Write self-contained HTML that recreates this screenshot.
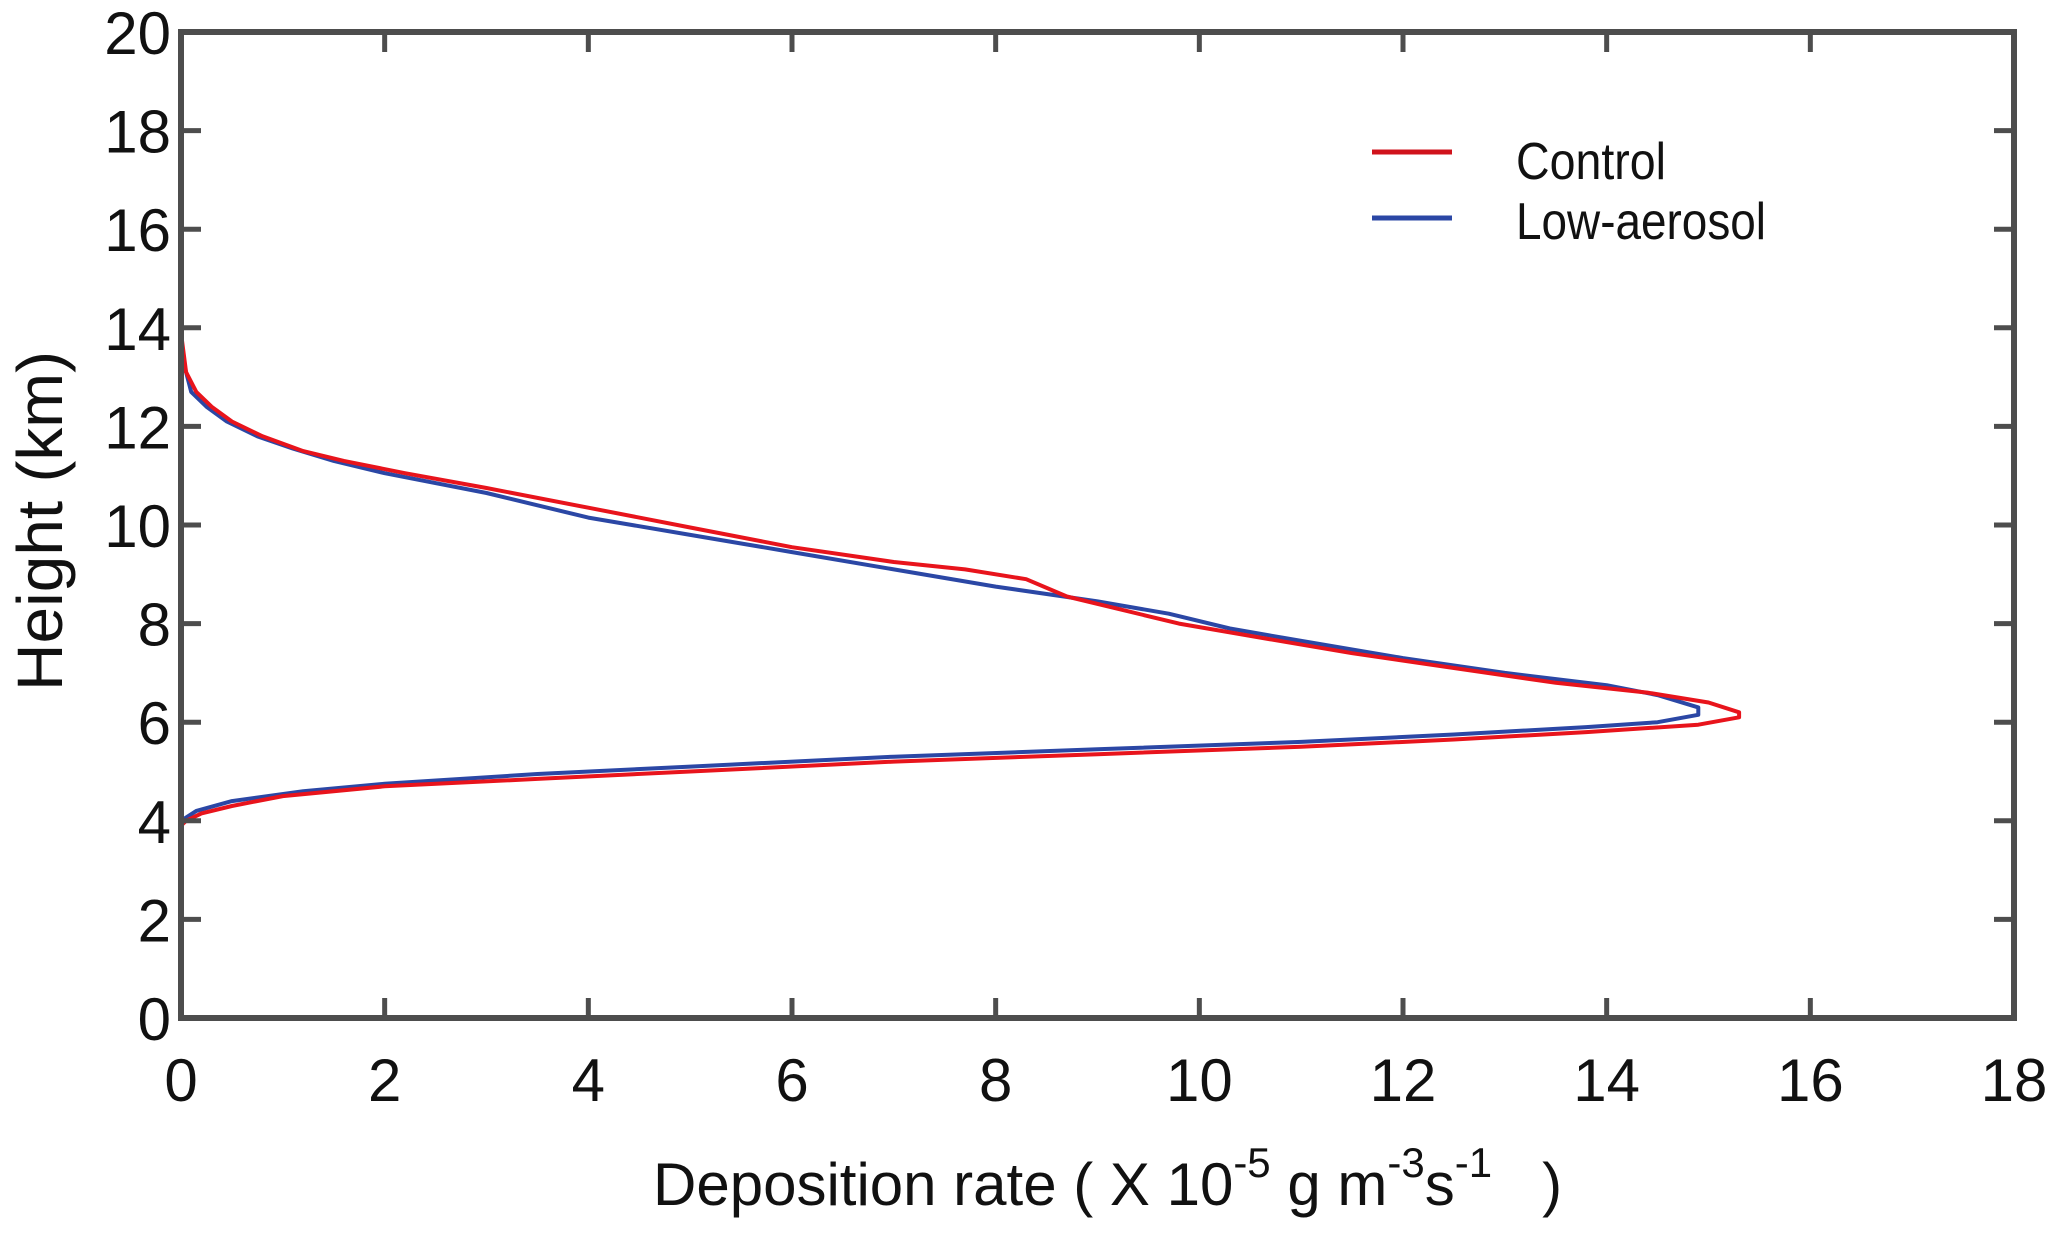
<!DOCTYPE html>
<html><head><meta charset="utf-8"><style>
html,body{margin:0;padding:0;background:#fff;}
svg{display:block;font-family:"Liberation Sans",sans-serif;}
</style></head><body>
<svg id="chart" width="2067" height="1237" viewBox="0 0 2067 1237">
<g id="plot"></g>
<g id="axes"></g>
<g>
<line x1="1372" y1="152" x2="1452" y2="152" stroke="#d0131c" stroke-width="5"/>
<text x="1516" y="179" font-size="52" fill="#111" textLength="150" lengthAdjust="spacingAndGlyphs">Control</text>
<line x1="1372" y1="218" x2="1452" y2="218" stroke="#2b47a5" stroke-width="5"/>
<text x="1516" y="239" font-size="52" fill="#111" textLength="250" lengthAdjust="spacingAndGlyphs">Low-aerosol</text>
</g>
<text x="653" y="1205" font-size="60" fill="#111">Deposition rate ( X 10<tspan dy="-28" font-size="42">-5</tspan><tspan dy="28"> g m</tspan><tspan dy="-28" font-size="42">-3</tspan><tspan dy="28">s</tspan><tspan dy="-28" font-size="42">-1</tspan><tspan dy="28" xml:space="preserve">   )</tspan></text>
<text transform="translate(62,521) rotate(-90)" text-anchor="middle" font-size="64" fill="#111" textLength="340" lengthAdjust="spacingAndGlyphs">Height (km)</text>
</svg>
<script>
const xTicks=[0,2,4,6,8,10,12,14,16,18];
const yTicks=[0,2,4,6,8,10,12,14,16,18,20];
const controlX=[0,0.05,0.15,0.3,0.5,0.8,1.2,1.6,2.2,3,4,5,6,7,7.7,8.3,8.7,9.2,9.8,10.5,11.5,12.5,13.5,14.4,15.0,15.3,15.3,14.9,13.8,12.5,11,9,7,5,3.5,2,1,0.5,0.2,0.05,0,0];
const controlY=[13.9,13.1,12.7,12.4,12.1,11.8,11.5,11.3,11.05,10.75,10.35,9.95,9.55,9.25,9.1,8.9,8.55,8.3,8.0,7.75,7.4,7.1,6.8,6.6,6.4,6.2,6.1,5.95,5.8,5.65,5.5,5.35,5.2,5.0,4.85,4.7,4.5,4.3,4.15,4.0,3.9,0];
const lowX=[0,0.1,0.25,0.45,0.75,1.1,1.5,2,3,4,5,6,7,8,9,9.7,10.3,11,12,13,14,14.5,14.9,14.9,14.5,13.8,12.5,11,9,7,5,3.5,2,1.2,0.5,0.15,0,0];
const lowY=[13.5,12.7,12.4,12.1,11.8,11.55,11.3,11.05,10.65,10.15,9.8,9.45,9.1,8.75,8.45,8.2,7.9,7.65,7.3,7.0,6.75,6.55,6.3,6.15,6.0,5.9,5.75,5.6,5.45,5.3,5.1,4.95,4.75,4.6,4.4,4.2,4.0,0];
const L=181,R=2014,T=32,B=1018;
const sx=v=>L+(v-0)/(18-0)*(R-L);
const sy=v=>B-(v-0)/(20-0)*(B-T);
const NS='http://www.w3.org/2000/svg';
const plot=document.getElementById('plot'),axes=document.getElementById('axes');
function mk(tag,attrs,parent){const e=document.createElementNS(NS,tag);for(const k in attrs)e.setAttribute(k,attrs[k]);parent.appendChild(e);return e;}
function series(xs,ys,color,name){
  const d=xs.map((x,i)=>(i?'L':'M')+sx(x).toFixed(1)+','+sy(ys[i]).toFixed(1)).join('');
  const p=mk('path',{d:d,fill:'none',stroke:color,'stroke-width':4,'stroke-linejoin':'round'},plot);
  
  
}
series(lowX,lowY,'#2b47a5','low-aerosol-line');
series(controlX,controlY,'#e8141c','control-line');
const ax='#4d4d4d';
const frame=mk('rect',{x:L,y:T,width:R-L,height:B-T,fill:'none',stroke:ax,'stroke-width':6},axes);


xTicks.forEach(v=>{
  const x=sx(v);
  const t1=mk('line',{x1:x,y1:B,x2:x,y2:B-20,stroke:ax,'stroke-width':5},axes);
  
  
  const t2=mk('line',{x1:x,y1:T,x2:x,y2:T+20,stroke:ax,'stroke-width':5},axes);
  
  
  const lb=mk('text',{x:x,y:B+83,'font-size':60,'text-anchor':'middle',fill:'#111'},axes);
  lb.textContent=v;
  
  
});
yTicks.forEach(v=>{
  const y=sy(v);
  const t1=mk('line',{x1:L,y1:y,x2:L+20,y2:y,stroke:ax,'stroke-width':5},axes);
  
  
  const t2=mk('line',{x1:R,y1:y,x2:R-20,y2:y,stroke:ax,'stroke-width':5},axes);
  
  
  const lb=mk('text',{x:L-10,y:y+22,'font-size':60,'text-anchor':'end',fill:'#111'},axes);
  lb.textContent=v;
  
  
});
</script>
</body></html>
